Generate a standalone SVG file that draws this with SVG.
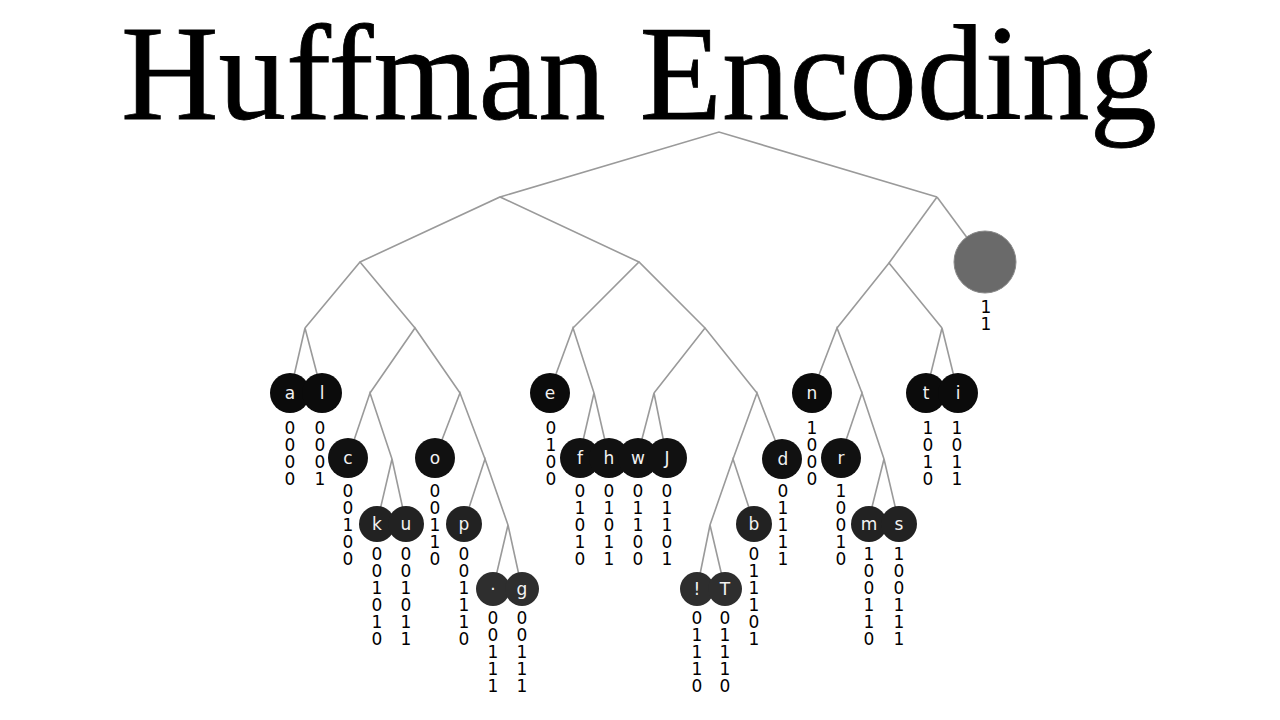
<svg xmlns="http://www.w3.org/2000/svg" width="1280" height="720" viewBox="0 0 1280 720">
<style>
.title{font-family:"Liberation Serif","Times New Roman",serif;font-size:135px;fill:#000;stroke:#000;stroke-width:0.8}
.edge{stroke:#9a9a9a;stroke-width:1.6;fill:none}
.n1{fill:#0b0b0b}
.n2{fill:#111}
.n3{fill:#222}
.n4{fill:#2e2e2e}
.big{fill:#6a6a6a;stroke:#8a8a8a;stroke-width:1}
.lbl{font-family:"DejaVu Sans",sans-serif;font-size:17px;fill:#f2f2f2;text-anchor:middle}
.code{font-family:"DejaVu Sans",sans-serif;font-size:17px;fill:#000;text-anchor:middle}
</style>
<rect width="1280" height="720" fill="#fff"/>
<text class="title" x="639" y="119" text-anchor="middle">Huffman Encoding</text>
<g id="connectors">
<polyline class="edge" points="500,197 719,132 937,197"/>
<line class="edge" x1="937" y1="197" x2="985" y2="262"/>
<polyline class="edge" points="360,262 500,197 639,262"/>
<polyline class="edge" points="837,328 889,263 942,328"/>
<line class="edge" x1="937" y1="197" x2="889" y2="263"/>
<polyline class="edge" points="305,328 360,262 415,328"/>
<polyline class="edge" points="573,328 639,262 705,328"/>
<polyline class="edge" points="290,393 305,328 322,393"/>
<polyline class="edge" points="370,393 415,328 460,393"/>
<polyline class="edge" points="549,393 573,328 594,393"/>
<polyline class="edge" points="654,393 705,328 757,393"/>
<polyline class="edge" points="812,393 837,328 862,393"/>
<polyline class="edge" points="926,393 942,328 958,393"/>
<polyline class="edge" points="348,458 370,393 392,459"/>
<polyline class="edge" points="435,458 460,393 485,459"/>
<polyline class="edge" points="579,458 594,393 609,458"/>
<polyline class="edge" points="637,458 654,393 667,458"/>
<polyline class="edge" points="733,459 757,393 782,458"/>
<polyline class="edge" points="840,458 862,393 884,459"/>
<polyline class="edge" points="377,523 392,459 406,523"/>
<polyline class="edge" points="464,523 485,459 508,525"/>
<polyline class="edge" points="710,525 733,459 754,523"/>
<polyline class="edge" points="868,523 884,459 899,523"/>
<polyline class="edge" points="493,589 508,525 522,589"/>
<polyline class="edge" points="697,589 710,525 725,589"/>
</g>
<g id="node-leaf11"><circle class="big" cx="985" cy="262" r="31"/><text class="code" x="986" y="313">1<tspan x="986" dy="16.7">1</tspan></text></g>
<g id="node-a"><circle class="n1" cx="290" cy="393" r="20"/><text class="lbl" x="290" y="399">a</text><text class="code" x="290" y="434">0<tspan x="290" dy="16.9">0</tspan><tspan x="290" dy="16.9">0</tspan><tspan x="290" dy="16.9">0</tspan></text></g>
<g id="node-l"><circle class="n1" cx="322" cy="393" r="20"/><text class="lbl" x="322" y="399">l</text><text class="code" x="320" y="434">0<tspan x="320" dy="16.9">0</tspan><tspan x="320" dy="16.9">0</tspan><tspan x="320" dy="16.9">1</tspan></text></g>
<g id="node-e"><circle class="n1" cx="550" cy="393" r="20"/><text class="lbl" x="550" y="399">e</text><text class="code" x="551" y="434">0<tspan x="551" dy="16.9">1</tspan><tspan x="551" dy="16.9">0</tspan><tspan x="551" dy="16.9">0</tspan></text></g>
<g id="node-n"><circle class="n1" cx="812" cy="393" r="20"/><text class="lbl" x="812" y="399">n</text><text class="code" x="812" y="434">1<tspan x="812" dy="16.9">0</tspan><tspan x="812" dy="16.9">0</tspan><tspan x="812" dy="16.9">0</tspan></text></g>
<g id="node-t"><circle class="n1" cx="926" cy="393" r="20"/><text class="lbl" x="926" y="399">t</text><text class="code" x="928" y="434">1<tspan x="928" dy="16.9">0</tspan><tspan x="928" dy="16.9">1</tspan><tspan x="928" dy="16.9">0</tspan></text></g>
<g id="node-i"><circle class="n1" cx="958" cy="393" r="20"/><text class="lbl" x="958" y="399">i</text><text class="code" x="957" y="434">1<tspan x="957" dy="16.9">0</tspan><tspan x="957" dy="16.9">1</tspan><tspan x="957" dy="16.9">1</tspan></text></g>
<g id="node-c"><circle class="n2" cx="348" cy="458" r="20"/><text class="lbl" x="348" y="464">c</text><text class="code" x="348" y="497">0<tspan x="348" dy="16.9">0</tspan><tspan x="348" dy="16.9">1</tspan><tspan x="348" dy="16.9">0</tspan><tspan x="348" dy="16.9">0</tspan></text></g>
<g id="node-o"><circle class="n2" cx="435" cy="458" r="20"/><text class="lbl" x="435" y="464">o</text><text class="code" x="435" y="497">0<tspan x="435" dy="16.9">0</tspan><tspan x="435" dy="16.9">1</tspan><tspan x="435" dy="16.9">1</tspan><tspan x="435" dy="16.9">0</tspan></text></g>
<g id="node-f"><circle class="n2" cx="580" cy="458" r="20"/><text class="lbl" x="580" y="464">f</text><text class="code" x="580" y="497">0<tspan x="580" dy="16.9">1</tspan><tspan x="580" dy="16.9">0</tspan><tspan x="580" dy="16.9">1</tspan><tspan x="580" dy="16.9">0</tspan></text></g>
<g id="node-h"><circle class="n2" cx="609" cy="458" r="20"/><text class="lbl" x="609" y="464">h</text><text class="code" x="609" y="497">0<tspan x="609" dy="16.9">1</tspan><tspan x="609" dy="16.9">0</tspan><tspan x="609" dy="16.9">1</tspan><tspan x="609" dy="16.9">1</tspan></text></g>
<g id="node-w"><circle class="n2" cx="638" cy="458" r="20"/><text class="lbl" x="638" y="464">w</text><text class="code" x="638" y="497">0<tspan x="638" dy="16.9">1</tspan><tspan x="638" dy="16.9">1</tspan><tspan x="638" dy="16.9">0</tspan><tspan x="638" dy="16.9">0</tspan></text></g>
<g id="node-J"><circle class="n2" cx="667" cy="458" r="20"/><text class="lbl" x="667" y="464">J</text><text class="code" x="667" y="497">0<tspan x="667" dy="16.9">1</tspan><tspan x="667" dy="16.9">1</tspan><tspan x="667" dy="16.9">0</tspan><tspan x="667" dy="16.9">1</tspan></text></g>
<g id="node-d"><circle class="n2" cx="782" cy="459" r="20"/><text class="lbl" x="783" y="465">d</text><text class="code" x="783" y="497">0<tspan x="783" dy="16.9">1</tspan><tspan x="783" dy="16.9">1</tspan><tspan x="783" dy="16.9">1</tspan><tspan x="783" dy="16.9">1</tspan></text></g>
<g id="node-r"><circle class="n2" cx="841" cy="458" r="20"/><text class="lbl" x="841" y="464">r</text><text class="code" x="841" y="497">1<tspan x="841" dy="16.9">0</tspan><tspan x="841" dy="16.9">0</tspan><tspan x="841" dy="16.9">1</tspan><tspan x="841" dy="16.9">0</tspan></text></g>
<g id="node-k"><circle class="n3" cx="377" cy="524" r="18"/><text class="lbl" x="377" y="530">k</text><text class="code" x="377" y="560">0<tspan x="377" dy="16.9">0</tspan><tspan x="377" dy="16.9">1</tspan><tspan x="377" dy="16.9">0</tspan><tspan x="377" dy="16.9">1</tspan><tspan x="377" dy="16.9">0</tspan></text></g>
<g id="node-u"><circle class="n3" cx="406" cy="524" r="18"/><text class="lbl" x="406" y="530">u</text><text class="code" x="406" y="560">0<tspan x="406" dy="16.9">0</tspan><tspan x="406" dy="16.9">1</tspan><tspan x="406" dy="16.9">0</tspan><tspan x="406" dy="16.9">1</tspan><tspan x="406" dy="16.9">1</tspan></text></g>
<g id="node-p"><circle class="n3" cx="464" cy="524" r="18"/><text class="lbl" x="464" y="530">p</text><text class="code" x="464" y="560">0<tspan x="464" dy="16.9">0</tspan><tspan x="464" dy="16.9">1</tspan><tspan x="464" dy="16.9">1</tspan><tspan x="464" dy="16.9">1</tspan><tspan x="464" dy="16.9">0</tspan></text></g>
<g id="node-b"><circle class="n3" cx="754" cy="524" r="18"/><text class="lbl" x="754" y="530">b</text><text class="code" x="754" y="560">0<tspan x="754" dy="16.9">1</tspan><tspan x="754" dy="16.9">1</tspan><tspan x="754" dy="16.9">1</tspan><tspan x="754" dy="16.9">0</tspan><tspan x="754" dy="16.9">1</tspan></text></g>
<g id="node-m"><circle class="n3" cx="869" cy="524" r="18"/><text class="lbl" x="869" y="530">m</text><text class="code" x="869" y="560">1<tspan x="869" dy="16.9">0</tspan><tspan x="869" dy="16.9">0</tspan><tspan x="869" dy="16.9">1</tspan><tspan x="869" dy="16.9">1</tspan><tspan x="869" dy="16.9">0</tspan></text></g>
<g id="node-s"><circle class="n3" cx="899" cy="524" r="18"/><text class="lbl" x="899" y="530">s</text><text class="code" x="899" y="560">1<tspan x="899" dy="16.9">0</tspan><tspan x="899" dy="16.9">0</tspan><tspan x="899" dy="16.9">1</tspan><tspan x="899" dy="16.9">1</tspan><tspan x="899" dy="16.9">1</tspan></text></g>
<g id="node-dot"><circle class="n4" cx="493" cy="589" r="17"/><text class="lbl" x="493" y="595">·</text><text class="code" x="493" y="624">0<tspan x="493" dy="16.9">0</tspan><tspan x="493" dy="16.9">1</tspan><tspan x="493" dy="16.9">1</tspan><tspan x="493" dy="16.9">1</tspan></text></g>
<g id="node-g"><circle class="n4" cx="522" cy="589" r="17"/><text class="lbl" x="522" y="595">g</text><text class="code" x="522" y="624">0<tspan x="522" dy="16.9">0</tspan><tspan x="522" dy="16.9">1</tspan><tspan x="522" dy="16.9">1</tspan><tspan x="522" dy="16.9">1</tspan></text></g>
<g id="node-excl"><circle class="n4" cx="697" cy="589" r="17"/><text class="lbl" x="697" y="595">!</text><text class="code" x="697" y="624">0<tspan x="697" dy="16.9">1</tspan><tspan x="697" dy="16.9">1</tspan><tspan x="697" dy="16.9">1</tspan><tspan x="697" dy="16.9">0</tspan></text></g>
<g id="node-T"><circle class="n4" cx="725" cy="589" r="17"/><text class="lbl" x="725" y="595">T</text><text class="code" x="725" y="624">0<tspan x="725" dy="16.9">1</tspan><tspan x="725" dy="16.9">1</tspan><tspan x="725" dy="16.9">1</tspan><tspan x="725" dy="16.9">0</tspan></text></g>
</svg>
